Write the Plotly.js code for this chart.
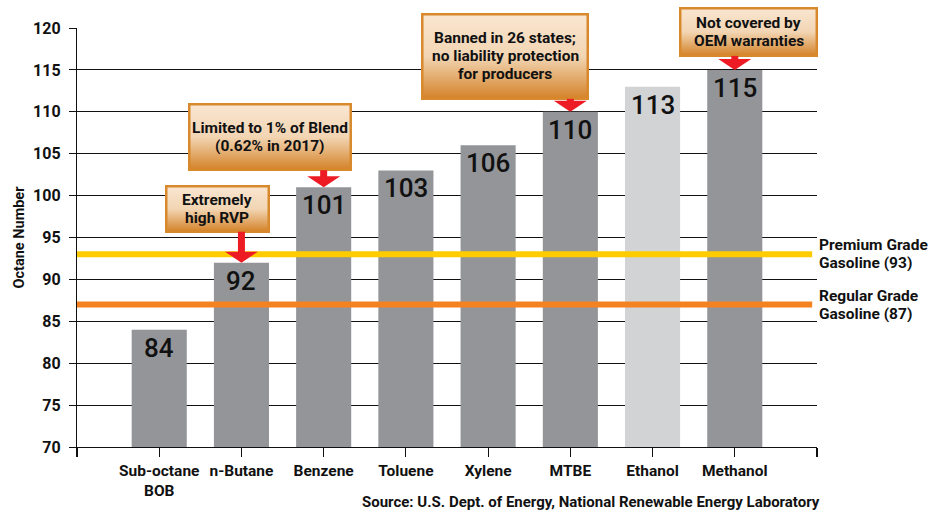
<!DOCTYPE html>
<html>
<head>
<meta charset="utf-8">
<script src="https://cdn.plot.ly/plotly-3.0.1.min.js"></script>
<style>html,body{margin:0;padding:0;background:#fff;}#chart{width:940px;height:516px;}</style>
</head>
<body>
<div id="chart"></div>
<script>
// ---- data ----
const categories = ['Sub-octane<br>BOB', 'n-Butane', 'Benzene', 'Toluene', 'Xylene', 'MTBE', 'Ethanol', 'Methanol'];
const octane = [84, 92, 101, 103, 106, 110, 113, 115];
const highlighted = ['Ethanol'];
const refValues = [93, 87];
const refLabels = [['Premium Grade', 'Gasoline (93)'], ['Regular Grade', 'Gasoline (87)']];
const noteTargets = ['n-Butane', 'Benzene', 'MTBE', 'Methanol'];
const noteTexts = [
  ['Extremely', 'high RVP'],
  ['Limited to 1% of Blend', '(0.62% in 2017)'],
  ['Banned in 26 states;', 'no liability protection', 'for producers'],
  ['Not covered by', 'OEM warranties']
];
const yTicks = [70, 75, 80, 85, 90, 95, 100, 105, 110, 115, 120];
const sourceText = 'Source: U.S. Dept. of Energy, National Renewable Energy Laboratory';

// ---- styles / positions ----
const FONT = 'Roboto, "Liberation Sans", sans-serif';
const BOLD = 'bold';
const TXT = '#111111';
const FS = 15.5;
const refColors = ['#FFCC00', '#F58220'];
// note boxes in paper coords [x0, x1, y0, y1], and arrow total length in px
const noteBoxes = [
  [0.1189, 0.2608, 0.5107, 0.6253],
  [0.1500, 0.3716, 0.6587, 0.8210],
  [0.4649, 0.6919, 0.8282, 1.0358],
  [0.8135, 1.0014, 0.9308, 1.0501]
];
const arrowLen = [30, 16, 12, 13];
const plotW = 740, plotH = 419;

const xIdx = categories.map((c, i) => i);

function boxSvg(w, h) {
  const svg = `<svg xmlns="http://www.w3.org/2000/svg" width="${w}" height="${h}" viewBox="0 0 ${w} ${h}"><defs><linearGradient id="g" x1="0" y1="0" x2="0" y2="1"><stop offset="0" stop-color="#F9E6D1"/><stop offset="0.5" stop-color="#F2D5B3"/><stop offset="1" stop-color="#D48228"/></linearGradient></defs><rect x="1.25" y="1.25" width="${w - 2.5}" height="${h - 2.5}" fill="url(#g)" stroke="#D8892C" stroke-width="2.5"/></svg>`;
  return 'data:image/svg+xml;charset=utf-8,' + encodeURIComponent(svg);
}

const bar = {
  type: 'bar',
  x: xIdx,
  y: octane,
  width: 0.67,
  marker: { color: categories.map(c => highlighted.includes(c) ? '#D1D3D4' : '#939598'), line: { width: 0 } },
  hoverinfo: 'none'
};

const shapes = [];
refValues.forEach((v, i) => {
  shapes.push({ type: 'line', xref: 'paper', yref: 'y', x0: 0, x1: 0.9935, y0: v, y1: v,
    line: { color: refColors[i], width: 6 }, layer: 'above' });
});

const images = [];
const annotations = [];
const lineH = 18;

// value labels inside the top of each bar
octane.forEach((v, i) => {
  annotations.push({ xref: 'x', yref: 'y', x: i, y: v, xanchor: 'center', yanchor: 'top', yshift: -1,
    text: String(v), showarrow: false, font: { family: FONT, size: 26, color: TXT, weight: 500 } });
});

noteTargets.forEach((t, k) => {
  const i = categories.indexOf(t);
  const v = octane[i];
  shapes.push({ type: 'path', xref: 'x', yref: 'y', xsizemode: 'pixel', ysizemode: 'pixel',
    xanchor: i, yanchor: v, path: 'M-16.5,11 L16.5,11 L0,0 Z',
    fillcolor: '#ED1C24', line: { width: 0 }, layer: 'above' });
  if (arrowLen[k] > 11) {
    shapes.push({ type: 'rect', xref: 'x', yref: 'y', xsizemode: 'pixel', ysizemode: 'pixel',
      xanchor: i, yanchor: v, x0: -3.5, x1: 3.5, y0: 10, y1: arrowLen[k] + 1,
      fillcolor: '#ED1C24', line: { width: 0 }, layer: 'above' });
  }
  const b = noteBoxes[k];
  const w = Math.round((b[1] - b[0]) * plotW), h = Math.round((b[3] - b[2]) * plotH);
  images.push({ source: boxSvg(w, h), xref: 'paper', yref: 'paper', x: b[0], y: b[3],
    sizex: b[1] - b[0], sizey: b[3] - b[2], xanchor: 'left', yanchor: 'top', sizing: 'stretch', layer: 'above' });
  const lines = noteTexts[k];
  const cy = (b[2] + b[3]) / 2, cx = (b[0] + b[1]) / 2;
  lines.forEach((ln, j) => {
    annotations.push({ xref: 'paper', yref: 'paper', x: cx, y: cy, xanchor: 'center', yanchor: 'middle',
      yshift: ((lines.length - 1) / 2 - j) * lineH, text: ln, showarrow: false,
      font: { family: FONT, size: FS, color: TXT, weight: BOLD } });
  });
});

refValues.forEach((v, i) => {
  const lines = refLabels[i];
  lines.forEach((ln, j) => {
    annotations.push({ xref: 'paper', yref: 'y', x: 1, y: v, xanchor: 'left', yanchor: 'middle',
      yshift: ((lines.length - 1) / 2 - j) * lineH, text: ln, showarrow: false,
      font: { family: FONT, size: FS, color: TXT, weight: BOLD } });
  });
});

annotations.push({ xref: 'paper', yref: 'paper', x: 1.0068, y: -0.131, xanchor: 'right', yanchor: 'middle',
  text: sourceText, showarrow: false, font: { family: FONT, size: 15, color: TXT, weight: BOLD } });

const layout = {
  width: 940, height: 516,
  margin: { l: 77, r: 123, t: 28, b: 69 },
  paper_bgcolor: '#fff', plot_bgcolor: '#fff',
  showlegend: false,
  font: { family: FONT, color: TXT },
  xaxis: {
    range: [-1, 8], tickmode: 'array',
    tickvals: [-1].concat(xIdx, [categories.length]),
    ticktext: [''].concat(categories, ['']),
    tickangle: 0,
    ticks: 'outside', ticklen: 9, tickwidth: 1.2, tickcolor: TXT,
    showline: true, linecolor: TXT, linewidth: 1.2,
    showgrid: false, zeroline: false, fixedrange: true,
    tickfont: { family: FONT, size: FS, color: TXT, weight: BOLD }
  },
  yaxis: {
    range: [70, 120], tickmode: 'array', tickvals: yTicks,
    ticks: 'outside', ticklen: 7, tickwidth: 1, tickcolor: TXT,
    showline: true, linecolor: TXT, linewidth: 1.2,
    showgrid: true, gridcolor: TXT, gridwidth: 1, zeroline: false,
    ticklabelstandoff: 5,
    tickfont: { family: FONT, size: FS + 0.5, color: TXT, weight: BOLD },
    title: { text: 'Octane Number', standoff: 5, font: { family: FONT, size: 14.5, color: TXT, weight: BOLD } },
    fixedrange: true
  },
  shapes: shapes,
  images: images,
  annotations: annotations
};

Plotly.newPlot('chart', [bar], layout, { displayModeBar: false, staticPlot: true });
</script>
</body>
</html>
